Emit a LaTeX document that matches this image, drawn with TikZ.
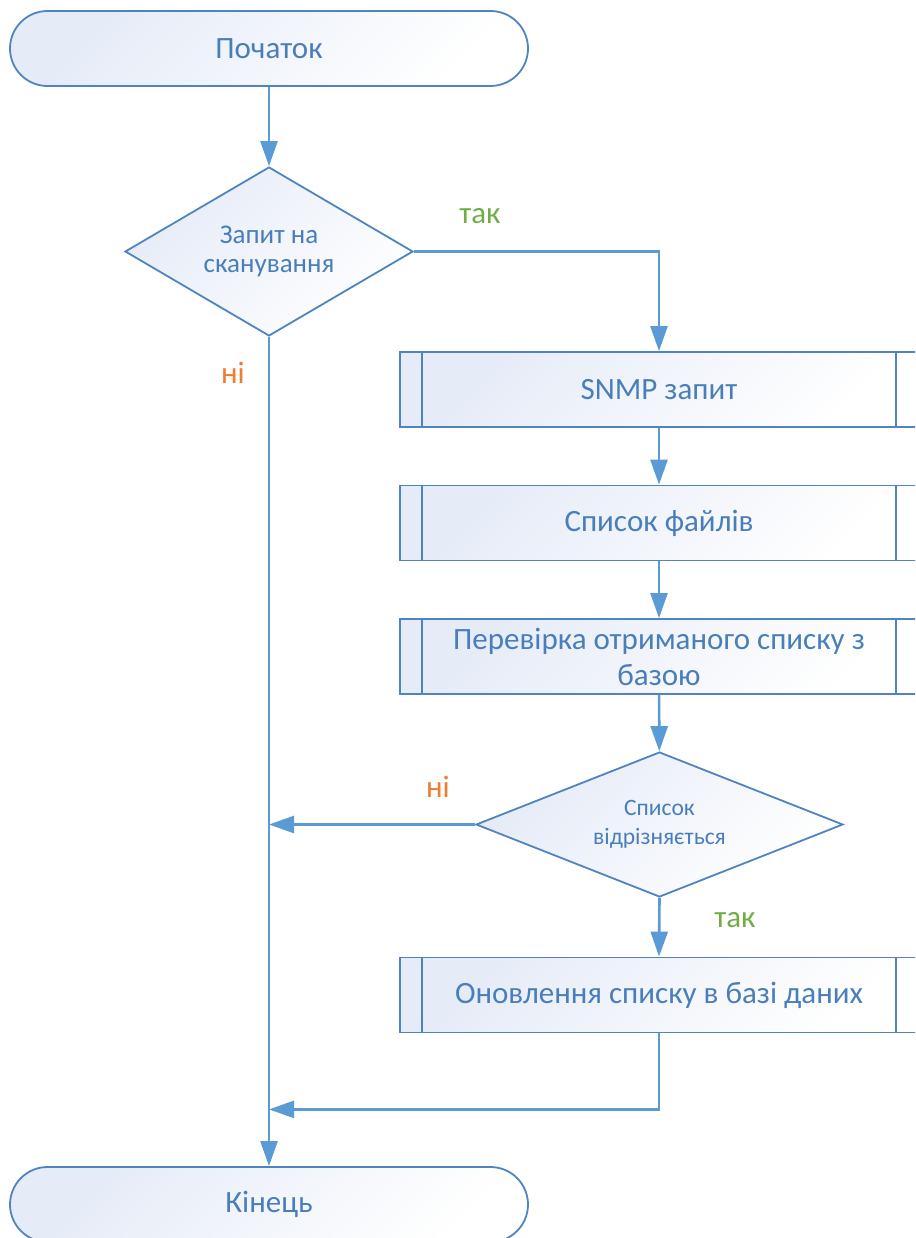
\documentclass[tikz,border=0pt]{standalone}
\usepackage{fontspec}
\setmainfont{Carlito}
\usetikzlibrary{shapes.geometric,arrows.meta,calc}

\definecolor{edgeblue}{HTML}{4F84C0}
\definecolor{linkblue}{HTML}{5B9BD5}
\definecolor{txtblue}{HTML}{4A7EBB}
\definecolor{fillblue}{HTML}{E5EBF7}
\definecolor{yesgreen}{HTML}{70AD47}
\definecolor{noorange}{HTML}{ED7D31}

\tikzset{
  shapefill/.style={shading=axis, top color=fillblue, bottom color=white, shading angle=45},
  terminal/.style={shapefill, draw=edgeblue, line width=1.8pt, rectangle,
    rounded corners=37.5pt, minimum width=518pt, minimum height=75pt,
    text=txtblue, font=\fontsize{31}{36}\selectfont},
  procbox/.style={shapefill, draw=edgeblue, line width=1.8pt, rectangle,
    minimum width=518pt, minimum height=75pt, inner sep=0pt,
    text=txtblue, align=center, font=\fontsize{31}{36}\selectfont},
  decision/.style={shapefill, draw=edgeblue, line width=1.8pt, diamond,
    inner sep=0pt, text=txtblue, align=center},
  link/.style={draw=linkblue, line width=2.6pt},
  arrow/.style={link, -{Triangle[length=25pt,width=17pt]}},
  yeslabel/.style={text=yesgreen, font=\fontsize{31}{36}\selectfont},
  nolabel/.style={text=noorange, font=\fontsize{31}{36}\selectfont},
}

\begin{document}
\begin{tikzpicture}[x=1pt, y=-1pt]
  \useasboundingbox (0,0) rectangle (915,1238);
  \clip (0,0) rectangle (915,1238);

  % terminals
  \node[terminal] (start) at (269,48.5) {Початок};
  \node[terminal] (stop) at (269,1204.5) {Кінець};

  % decisions
  \node[decision, aspect=1.704, minimum width=288pt, minimum height=169pt,
        font=\fontsize{27}{29}\selectfont] (ask) at (269,251.5)
        {Запит на\\сканування};
  \node[decision, aspect=2.531, minimum width=367pt, minimum height=145pt,
        font=\fontsize{23.5}{29}\selectfont] (diff) at (659.5,824.5)
        {Список\\відрізняється};

  % predefined processes
  \node[procbox] (snmp) at (659,389.5) {SNMP запит};
  \node[procbox] (files) at (659,523) {Список файлів};
  \node[procbox] (check) at (659,656.5) {Перевірка отриманого списку з\\базою};
  \node[procbox] (update) at (659,995) {Оновлення списку в базі даних};
  \foreach \b in {snmp,files,check,update}{
    \draw[edgeblue, line width=1.8pt]
      ([xshift=23pt]\b.north west) -- ([xshift=23pt]\b.south west)
      ([xshift=-23pt]\b.north east) -- ([xshift=-23pt]\b.south east);
  }

  % junction points on the left trunk
  \coordinate (j1) at (ask.south |- diff.west);
  \coordinate (j2) at ($(ask.south |- update.south)+(0,76)$);

  % connectors
  \draw[arrow] (start) -- (ask);
  \draw[arrow] (ask.east) -| (snmp.north);
  \draw[arrow] (ask.south) -- (stop.north);
  \draw[arrow] (snmp) -- (files);
  \draw[arrow] (files) -- (check);
  \draw[arrow] (check) -- (diff);
  \draw[arrow] (diff.west) -- (j1);
  \draw[arrow] (diff.south) -- (update.north);
  \draw[arrow] (update.south) |- (j2);

  % branch labels
  \node[yeslabel] (yes1) at (480,216) {так};
  \node[nolabel] (no1) at (233,373) {ні};
  \node[nolabel] (no2) at (438,787) {ні};
  \node[yeslabel] (yes2) at (735,920) {так};
\end{tikzpicture}
\end{document}
